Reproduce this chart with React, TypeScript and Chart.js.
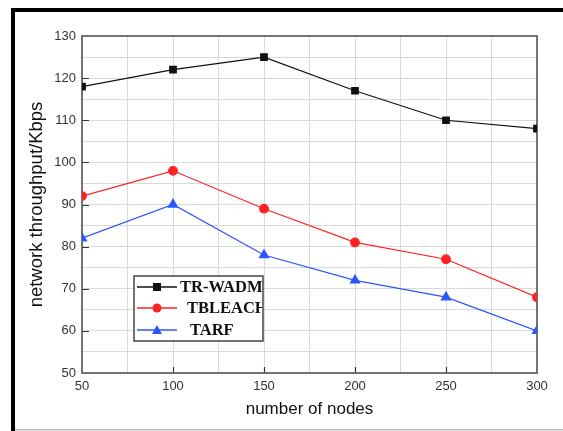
import React, { useEffect, useRef } from "react";
import { Chart, registerables } from "chart.js";

Chart.register(...registerables);

const nodes = [50, 100, 150, 200, 250, 300];
const trWadm = [118, 122, 125, 117, 110, 108];
const tbleach = [92, 98, 89, 81, 77, 68];
const tarf = [82, 90, 78, 72, 68, 60];
const seriesNames = ["TR-WADM", "TBLEACH", "TARF"];
const seriesColors = ["#111111", "#ff2222", "#2a55ff"];
const seriesMarkers = ["rect", "circle", "triangle"];
const xTitle = "number of nodes";
const yTitle = "network throughput/Kbps";

const framePlugin = {
  id: "frameAndLegend",
  beforeDatasetsDraw(chart: any) {
    const { ctx, chartArea, scales } = chart;
    const { left, right, top, bottom } = chartArea;
    ctx.save();
    ctx.strokeStyle = "#333";
    ctx.lineWidth = 1.2;
    ctx.beginPath();
    for (let v = 60; v < 130; v += 10) {
      const y = Math.round(scales.y.getPixelForValue(v)) + 0.5;
      ctx.moveTo(left, y);
      ctx.lineTo(left + 7, y);
    }
    for (let v = 100; v < 300; v += 50) {
      const x = Math.round(scales.x.getPixelForValue(v)) + 0.5;
      ctx.moveTo(x, bottom);
      ctx.lineTo(x, bottom - 6);
    }
    ctx.stroke();
    ctx.strokeStyle = "#555";
    ctx.lineWidth = 1.6;
    ctx.strokeRect(left, top, right - left, bottom - top);
    ctx.restore();
  },
  afterDraw(chart: any) {
    const { ctx } = chart;
    ctx.save();
    ctx.fillStyle = "#000";
    ctx.fillRect(11, 8, 563 - 11, 4);
    ctx.fillRect(11, 8, 4, 431 - 8);
    ctx.fillStyle = "#bbb";
    ctx.fillRect(15, 429, 563 - 15, 1.5);

    const bx = 134, by = 276, bw = 129, bh = 65;
    ctx.fillStyle = "#fff";
    ctx.fillRect(bx, by, bw, bh);
    ctx.strokeStyle = "#444";
    ctx.lineWidth = 1.5;
    ctx.strokeRect(bx, by, bw, bh);
    ctx.beginPath();
    ctx.rect(bx, by, bw - 1, bh);
    ctx.clip();
    const rows = [287, 308, 330];
    const textX = [180, 187, 190];
    chart.data.datasets.forEach((ds: any, i: number) => {
      const y = rows[i];
      ctx.strokeStyle = ds.borderColor;
      ctx.lineWidth = 1.4;
      ctx.beginPath();
      ctx.moveTo(137, y);
      ctx.lineTo(177, y);
      ctx.stroke();
      ctx.fillStyle = ds.borderColor;
      ctx.beginPath();
      if (ds.pointStyle === "rect") {
        ctx.rect(153, y - 4, 8, 8);
      } else if (ds.pointStyle === "circle") {
        ctx.arc(157, y, 4.5, 0, Math.PI * 2);
      } else {
        ctx.moveTo(157, y - 5);
        ctx.lineTo(162, y + 4);
        ctx.lineTo(152, y + 4);
        ctx.closePath();
      }
      ctx.fill();
      ctx.fillStyle = "#111";
      ctx.font = "bold 16.5px 'Liberation Serif'";
      ctx.textBaseline = "middle";
      ctx.textAlign = "left";
      ctx.fillText(ds.label, textX[i], y + 1);
    });
    ctx.restore();
  },
};

export default function App() {
  const ref = useRef<HTMLCanvasElement>(null);
  useEffect(() => {
    if (!ref.current) return;
    const seriesData = [trWadm, tbleach, tarf];
    const chart = new Chart(ref.current, {
      type: "line",
      data: {
        datasets: seriesData.map((vals, i) => ({
          label: seriesNames[i],
          data: vals.map((v, j) => ({ x: nodes[j], y: v })),
          borderColor: seriesColors[i],
          backgroundColor: seriesColors[i],
          pointBackgroundColor: seriesColors[i],
          pointBorderColor: seriesColors[i],
          pointStyle: seriesMarkers[i] as any,
          pointRadius: i === 0 ? 4.6 : i === 1 ? 4.3 : 5.2,
          borderWidth: 1.2,
          tension: 0,
          fill: false,
        })),
      },
      options: {
        responsive: false,
        animation: false,
        devicePixelRatio: 1,
        layout: { padding: { left: 15, top: 36, right: 26, bottom: 10 } },
        plugins: { legend: { display: false }, tooltip: { enabled: false } },
        scales: {
          x: {
            type: "linear",
            min: 50,
            max: 300,
            afterFit: (s: any) => {
              s.height = 48;
            },
            grid: { color: "#dadada", drawTicks: false, lineWidth: 1 },
            border: { display: false },
            ticks: {
              stepSize: 25,
              autoSkip: false,
              maxRotation: 0,
              padding: 6,
              color: "#333",
              font: { family: "'Liberation Sans', Arial", size: 13 },
              callback: (v: any) => (v % 50 === 0 ? String(v) : ""),
            },
            title: {
              display: true,
              text: xTitle,
              color: "#111",
              font: { family: "'Liberation Sans', Arial", size: 17 },
              padding: { top: 1, bottom: 1 },
            },
          },
          y: {
            min: 50,
            max: 130,
            afterFit: (s: any) => {
              s.width = 67;
            },
            grid: { color: "#dadada", drawTicks: false, lineWidth: 1 },
            border: { display: false },
            ticks: {
              stepSize: 5,
              autoSkip: false,
              padding: 6,
              color: "#333",
              font: { family: "'Liberation Sans', Arial", size: 13 },
              callback: (v: any) => (v % 10 === 0 ? String(v) : ""),
            },
            title: {
              display: true,
              text: yTitle,
              color: "#111",
              font: { family: "'Liberation Sans', Arial", size: 18.5 },
              padding: { top: 11, bottom: 0 },
            },
          },
        },
      },
      plugins: [framePlugin],
    });
    return () => chart.destroy();
  }, []);
  return (
    <div style={{ position: "absolute", left: 0, top: 0, width: 563, height: 431, background: "#fff" }}>
      <canvas ref={ref} width={563} height={431} style={{ display: "block", width: 563, height: 431 }} />
    </div>
  );
}
